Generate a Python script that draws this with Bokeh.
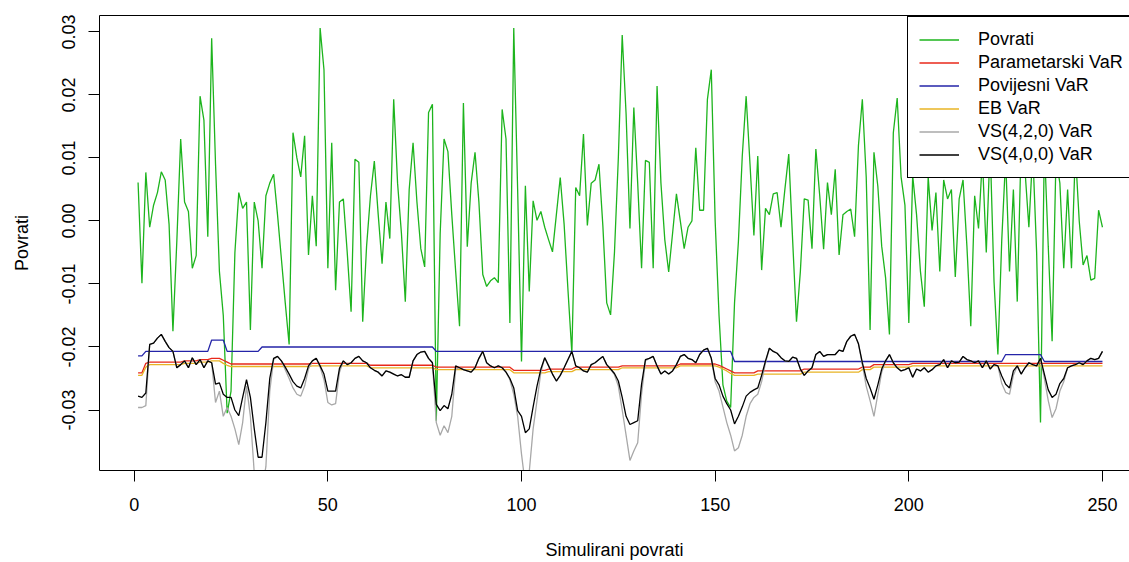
from bokeh.plotting import figure
from bokeh.models import (Range1d, FixedTicker, PrintfTickFormatter, Legend, LegendItem,
                          LinearAxis)
from bokeh.embed import file_html
from bokeh.resources import INLINE

# ---------------- data ----------------
t = list(range(1, 251))

povrati = [
    0.0061, -0.0099, 0.0077, -0.0010, 0.0025, 0.0045, 0.0078, 0.0065, -0.0005, -0.0175,
    -0.0033, 0.0130, 0.0030, 0.0015, -0.0075, -0.0055, 0.0198, 0.0160, -0.0025, 0.0290,
    0.0090, -0.0080, -0.0150, -0.0305, -0.0270, -0.0050, 0.0045, 0.0020, 0.0030, -0.0173,
    0.0030, 0.0000, -0.0075, 0.0040, 0.0060, 0.0074, 0.0010, -0.0060, -0.0130, -0.0196,
    0.0140, 0.0100, 0.0070, 0.0135, -0.0054, 0.0040, -0.0040, 0.0306, 0.0240, -0.0075,
    0.0124, -0.0110, 0.0030, 0.0035, -0.0050, -0.0144, 0.0098, 0.0093, -0.0160, -0.0040,
    0.0040, 0.0095, 0.0010, -0.0068, 0.0030, -0.0028, 0.0193, 0.0060, -0.0020, -0.0128,
    0.0050, 0.0124, 0.0030, -0.0044, -0.0073, 0.0172, 0.0185, -0.0317, -0.0020, 0.0130,
    0.0110, 0.0010, -0.0080, -0.0167, 0.0187, -0.0041, 0.0060, 0.0109, 0.0030, -0.0085,
    -0.0104, -0.0095, -0.0090, -0.0098, 0.0177, 0.0130, -0.0162, 0.0306, 0.0050, -0.0223,
    0.0056, -0.0112, 0.0032, 0.0001, 0.0015, -0.0010, -0.0030, -0.0049, 0.0010, 0.0069,
    -0.0005, -0.0110, -0.0210, 0.0053, 0.0040, 0.0138, -0.0007, 0.0060, 0.0065, 0.0090,
    -0.0007, -0.0130, -0.0149, -0.0050, 0.0100, 0.0295, 0.0170, -0.0012, 0.0180, 0.0060,
    -0.0075, 0.0096, 0.0093, -0.0075, 0.0214, 0.0060, -0.0030, -0.0081, -0.0020, 0.0043,
    0.0000, -0.0044, -0.0010, 0.0000, 0.0116, 0.0017, 0.0017, 0.0193, 0.0240, 0.0000,
    -0.0150, -0.0260, -0.0286, -0.0296, -0.0130, -0.0033, 0.0103, 0.0198, 0.0090, -0.0023,
    0.0103, -0.0078, 0.0020, 0.0010, 0.0043, 0.0045, -0.0010, 0.0050, 0.0106, -0.0030,
    -0.0160, -0.0080, 0.0035, 0.0033, -0.0044, 0.0114, 0.0040, -0.0045, 0.0061, 0.0010,
    0.0082, -0.0054, 0.0010, 0.0015, 0.0019, -0.0025, 0.0120, 0.0193, 0.0070, -0.0173,
    0.0109, 0.0055, -0.0040, -0.0090, -0.0180, 0.0140, 0.0195, 0.0070, 0.0025, -0.0162,
    0.0072, 0.0010, -0.0080, -0.0136, 0.0070, -0.0015, 0.0045, -0.0080, 0.0065, 0.0035,
    0.0050, -0.0089, 0.0035, 0.0065, -0.0040, -0.0167, 0.0040, -0.0012, 0.0100, -0.0050,
    0.0120, -0.0096, -0.0212, -0.0030, 0.0100, -0.0080, 0.0050, -0.0128, 0.0120, 0.0080,
    -0.0010, 0.0110, -0.0050, -0.0320, 0.0120, -0.0040, -0.0191, 0.0100, 0.0060, -0.0075,
    0.0050, -0.0075, 0.0110, 0.0000, -0.0070, -0.0055, -0.0094, -0.0091, 0.0017, -0.0010,
]

parametarski_var = ([-0.0241] * 2 + [-0.0226] + [-0.0224] * 9 + [-0.0222] * 4 + [-0.0220] * 3
                    + [-0.0218] * 3 + [-0.0221] + [-0.0224] + [-0.0227] * 21 + [-0.0226] * 15
                    + [-0.0229] * 17 + [-0.0232] * 20 + [-0.0237] * 9 + [-0.0235] * 7
                    + [-0.0232] * 12 + [-0.0230] * 15 + [-0.0227] * 10
                    + [-0.0229, -0.0232, -0.0235, -0.0238] + [-0.0241] * 6 + [-0.0238] * 12
                    + [-0.0235] * 15 + [-0.0232] * 3 + [-0.0228] * 10 + [-0.0226] * 50)

povijesni_var = ([-0.0214] * 2 + [-0.0207] * 16 + [-0.0207] + [-0.0189] * 4 + [-0.0207] * 9
                 + [-0.0200] * 45 + [-0.0207] * 77 + [-0.0223] * 70 + [-0.0212] * 10
                 + [-0.0223] * 16)

eb_var = ([-0.0245] * 2 + [-0.0232] + [-0.0228] * 9 + [-0.0226] * 4 + [-0.0224] * 3
          + [-0.0222] * 3 + [-0.0226] + [-0.0229] + [-0.0231] * 21 + [-0.0230] * 15
          + [-0.0233] * 17 + [-0.0236] * 20 + [-0.0241] * 9 + [-0.0239] * 7
          + [-0.0236] * 12 + [-0.0233] * 15 + [-0.0230] * 10
          + [-0.0232, -0.0235, -0.0238, -0.0242] + [-0.0245] * 6 + [-0.0243] * 12
          + [-0.0240] * 15 + [-0.0236] * 3 + [-0.0232] * 10 + [-0.0230] * 50)

vs420_var = [
    -0.0296, -0.0296, -0.0293, -0.0196, -0.0194, -0.0186, -0.0180, -0.0191, -0.0201, -0.0207,
    -0.0233, -0.0228, -0.0222, -0.0233, -0.0217, -0.0228, -0.0220, -0.0233, -0.0222, -0.0225,
    -0.0288, -0.0270, -0.0310, -0.0296, -0.0310, -0.0330, -0.0355, -0.0320, -0.0262, -0.0310,
    -0.0400, -0.0420, -0.0425, -0.0390, -0.0270, -0.0220, -0.0215, -0.0222, -0.0236, -0.0250,
    -0.0265, -0.0275, -0.0278, -0.0262, -0.0235, -0.0222, -0.0218, -0.0232, -0.0252, -0.0288,
    -0.0292, -0.0290, -0.0240, -0.0222, -0.0228, -0.0225, -0.0218, -0.0215, -0.0222, -0.0225,
    -0.0233, -0.0237, -0.0240, -0.0246, -0.0238, -0.0240, -0.0243, -0.0246, -0.0244, -0.0248,
    -0.0248, -0.0222, -0.0212, -0.0208, -0.0207, -0.0218, -0.0225, -0.0320, -0.0340, -0.0325,
    -0.0336, -0.0310, -0.0235, -0.0233, -0.0236, -0.0238, -0.0240, -0.0233, -0.0218, -0.0207,
    -0.0225, -0.0230, -0.0233, -0.0230, -0.0233, -0.0240, -0.0252, -0.0275, -0.0310, -0.0370,
    -0.0420, -0.0398, -0.0330, -0.0285, -0.0240, -0.0217, -0.0230, -0.0243, -0.0254, -0.0245,
    -0.0233, -0.0220, -0.0207, -0.0230, -0.0233, -0.0238, -0.0240, -0.0228, -0.0225, -0.0220,
    -0.0215, -0.0228, -0.0235, -0.0244, -0.0262, -0.0300, -0.0340, -0.0380, -0.0365, -0.0352,
    -0.0275, -0.0222, -0.0218, -0.0215, -0.0230, -0.0243, -0.0238, -0.0243, -0.0238, -0.0228,
    -0.0215, -0.0212, -0.0218, -0.0220, -0.0225, -0.0212, -0.0205, -0.0202, -0.0218, -0.0255,
    -0.0270, -0.0295, -0.0320, -0.0340, -0.0365, -0.0360, -0.0340, -0.0310, -0.0290, -0.0280,
    -0.0275, -0.0255, -0.0225, -0.0202, -0.0207, -0.0210, -0.0217, -0.0222, -0.0223, -0.0216,
    -0.0218, -0.0235, -0.0245, -0.0238, -0.0233, -0.0212, -0.0207, -0.0215, -0.0212, -0.0212,
    -0.0212, -0.0205, -0.0207, -0.0191, -0.0183, -0.0180, -0.0195, -0.0228, -0.0262, -0.0285,
    -0.0310, -0.0275, -0.0240, -0.0222, -0.0212, -0.0225, -0.0233, -0.0238, -0.0236, -0.0233,
    -0.0248, -0.0235, -0.0238, -0.0233, -0.0240, -0.0236, -0.0230, -0.0228, -0.0220, -0.0233,
    -0.0222, -0.0225, -0.0224, -0.0215, -0.0220, -0.0222, -0.0225, -0.0222, -0.0233, -0.0222,
    -0.0235, -0.0228, -0.0230, -0.0258, -0.0272, -0.0275, -0.0245, -0.0230, -0.0243, -0.0233,
    -0.0225, -0.0228, -0.0230, -0.0218, -0.0250, -0.0285, -0.0312, -0.0298, -0.0270, -0.0255,
    -0.0233, -0.0230, -0.0228, -0.0225, -0.0228, -0.0222, -0.0218, -0.0220, -0.0218, -0.0207,
]

vs400_var = [
    -0.0278, -0.0280, -0.0273, -0.0196, -0.0194, -0.0186, -0.0180, -0.0191, -0.0201, -0.0207,
    -0.0233, -0.0228, -0.0222, -0.0233, -0.0217, -0.0228, -0.0220, -0.0233, -0.0222, -0.0225,
    -0.0259, -0.0257, -0.0275, -0.0280, -0.0280, -0.0300, -0.0309, -0.0280, -0.0252, -0.0280,
    -0.0330, -0.0375, -0.0375, -0.0320, -0.0250, -0.0218, -0.0215, -0.0222, -0.0232, -0.0243,
    -0.0255, -0.0262, -0.0265, -0.0250, -0.0230, -0.0222, -0.0218, -0.0230, -0.0243, -0.0270,
    -0.0270, -0.0270, -0.0234, -0.0222, -0.0228, -0.0225, -0.0218, -0.0215, -0.0222, -0.0225,
    -0.0233, -0.0237, -0.0240, -0.0246, -0.0238, -0.0240, -0.0243, -0.0246, -0.0244, -0.0248,
    -0.0248, -0.0222, -0.0212, -0.0208, -0.0207, -0.0218, -0.0225, -0.0291, -0.0301, -0.0293,
    -0.0298, -0.0275, -0.0230, -0.0233, -0.0236, -0.0238, -0.0240, -0.0233, -0.0218, -0.0207,
    -0.0225, -0.0230, -0.0233, -0.0230, -0.0233, -0.0240, -0.0250, -0.0265, -0.0301, -0.0310,
    -0.0336, -0.0330, -0.0295, -0.0262, -0.0235, -0.0217, -0.0230, -0.0243, -0.0254, -0.0245,
    -0.0233, -0.0220, -0.0207, -0.0230, -0.0233, -0.0238, -0.0240, -0.0228, -0.0225, -0.0220,
    -0.0215, -0.0228, -0.0235, -0.0242, -0.0254, -0.0280, -0.0310, -0.0323, -0.0320, -0.0317,
    -0.0259, -0.0220, -0.0218, -0.0215, -0.0230, -0.0243, -0.0238, -0.0243, -0.0238, -0.0228,
    -0.0215, -0.0212, -0.0218, -0.0220, -0.0225, -0.0212, -0.0205, -0.0202, -0.0218, -0.0250,
    -0.0260, -0.0278, -0.0290, -0.0300, -0.0322, -0.0310, -0.0295, -0.0278, -0.0272, -0.0268,
    -0.0265, -0.0245, -0.0222, -0.0202, -0.0207, -0.0210, -0.0217, -0.0222, -0.0223, -0.0216,
    -0.0218, -0.0235, -0.0245, -0.0238, -0.0233, -0.0212, -0.0207, -0.0215, -0.0212, -0.0212,
    -0.0212, -0.0205, -0.0207, -0.0191, -0.0183, -0.0180, -0.0195, -0.0225, -0.0250, -0.0265,
    -0.0283, -0.0260, -0.0235, -0.0222, -0.0212, -0.0225, -0.0233, -0.0238, -0.0236, -0.0233,
    -0.0248, -0.0235, -0.0238, -0.0233, -0.0240, -0.0236, -0.0230, -0.0228, -0.0220, -0.0233,
    -0.0222, -0.0225, -0.0224, -0.0215, -0.0220, -0.0222, -0.0225, -0.0222, -0.0233, -0.0222,
    -0.0235, -0.0228, -0.0230, -0.0246, -0.0259, -0.0265, -0.0238, -0.0230, -0.0243, -0.0233,
    -0.0225, -0.0228, -0.0230, -0.0218, -0.0243, -0.0268, -0.0280, -0.0275, -0.0258, -0.0250,
    -0.0233, -0.0230, -0.0228, -0.0225, -0.0228, -0.0222, -0.0218, -0.0220, -0.0218, -0.0207,
]

x_ticks = [0, 50, 100, 150, 200, 250]
y_ticks = [-0.03, -0.02, -0.01, 0.0, 0.01, 0.02, 0.03]

series_labels = ["Povrati", "Parametarski VaR", "Povijesni VaR", "EB VaR",
                 "VS(4,2,0) VaR", "VS(4,0,0) VaR"]
series_colors = ["#1DB41D", "#E8281A", "#2424A8", "#E8B424", "#A8A8A8", "#000000"]

# ---------------- figure ----------------
FONT = "Liberation Sans"

p = figure(width=1129, height=562, output_backend="svg", toolbar_location=None,
           x_range=Range1d(-8.96, 256.98), y_range=Range1d(-0.0396, 0.0326),
           min_border_left=99, min_border_right=0, min_border_top=15, min_border_bottom=89,
           x_axis_label="Simulirani povrati", y_axis_label="Povrati")
p.outline_line_color = None
p.grid.visible = False
p.background_fill_color = "white"
p.border_fill_color = "white"

for ax in (p.xaxis[0], p.yaxis[0]):
    ax.axis_line_color = "black"
    ax.axis_line_width = 1
    ax.major_tick_line_color = "black"
    ax.major_tick_out = 11
    ax.major_tick_in = 0
    ax.minor_tick_line_color = None
    ax.major_label_text_font = FONT
    ax.major_label_text_font_size = "18px"
    ax.major_label_text_color = "black"
    ax.axis_label_text_font = FONT
    ax.axis_label_text_font_size = "18px"
    ax.axis_label_text_font_style = "normal"
    ax.axis_label_text_color = "black"

p.xaxis[0].ticker = FixedTicker(ticks=x_ticks)
p.xaxis[0].major_label_standoff = 16
p.xaxis[0].axis_label_standoff = 26

p.yaxis[0].ticker = FixedTicker(ticks=y_ticks)
p.yaxis[0].formatter = PrintfTickFormatter(format="%.2f")
p.yaxis[0].major_label_orientation = "vertical"
p.yaxis[0].major_label_standoff = 13
p.yaxis[0].axis_label_standoff = 28

# top border line of the plot box
top_axis = LinearAxis(ticker=FixedTicker(ticks=[]), major_label_text_font_size="0px",
                      major_tick_out=0, major_tick_in=0, minor_tick_out=0, minor_tick_in=0,
                      major_label_standoff=0, axis_line_color="black")
p.add_layout(top_axis, "above")

all_series = [povrati, parametarski_var, povijesni_var, eb_var, vs420_var, vs400_var]
renderers = []
for ys, col in zip(all_series, series_colors):
    r = p.line(t, ys, line_color=col, line_width=1.3)
    renderers.append(r)

legend = Legend(items=[LegendItem(label=lab, renderers=[r])
                       for lab, r in zip(series_labels, renderers)],
                location=(808, 292))
legend.label_text_font = FONT
legend.label_text_font_size = "18px"
legend.label_text_color = "black"
legend.border_line_color = "black"
legend.border_line_width = 1
legend.border_line_alpha = 1
legend.background_fill_color = "white"
legend.background_fill_alpha = 1
legend.padding = 11
legend.spacing = 0
legend.margin = 0
legend.glyph_width = 40
legend.glyph_height = 23
legend.label_height = 23
legend.label_standoff = 19
p.add_layout(legend)

open("out.html", "w").write(file_html(p, INLINE))
